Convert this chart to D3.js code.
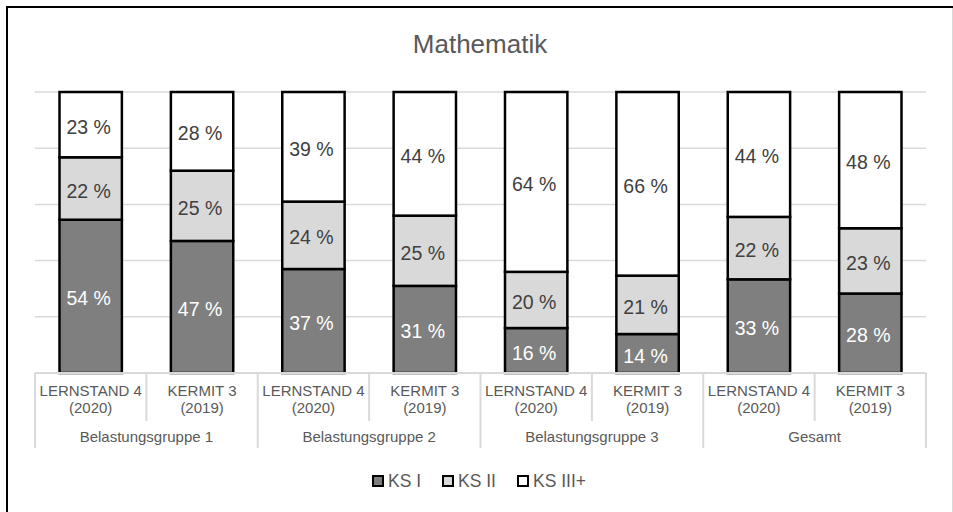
<!DOCTYPE html>
<html><head><meta charset="utf-8">
<script src="https://cdn.jsdelivr.net/npm/d3@7"></script>
<style>
html,body{margin:0;padding:0;background:#fff;}
svg{display:block;font-family:"Liberation Sans",Arial,sans-serif;}
</style></head>
<body><svg id="c" width="953" height="512"></svg>
<script>
const title = "Mathematik";
const categories = ["LERNSTAND 4 (2020)|G1","KERMIT 3 (2019)|G1","LERNSTAND 4 (2020)|G2","KERMIT 3 (2019)|G2","LERNSTAND 4 (2020)|G3","KERMIT 3 (2019)|G3","LERNSTAND 4 (2020)|G4","KERMIT 3 (2019)|G4"];
const subLine1 = ["LERNSTAND 4","KERMIT 3","LERNSTAND 4","KERMIT 3","LERNSTAND 4","KERMIT 3","LERNSTAND 4","KERMIT 3"];
const subLine2 = ["(2020)","(2019)","(2020)","(2019)","(2020)","(2019)","(2020)","(2019)"];
const groups = ["Belastungsgruppe 1","Belastungsgruppe 2","Belastungsgruppe 3","Gesamt"];
const seriesNames = ["KS I","KS II","KS III+"];
const ksI   = [54,47,37,31,16,14,33,28];
const ksII  = [22,25,24,25,20,21,22,23];
const ksIII = [23,28,39,44,64,66,44,48];
const yTicks = [0,0.2,0.4,0.6,0.8,1.0];

const colors = ["#7f7f7f","#d9d9d9","#ffffff"];
const labelColors = ["#ffffff","#404040","#404040"];

const svg = d3.select("#c");
// chart border
svg.append("line").attr("x1",7).attr("x2",7).attr("y1",7).attr("y2",512).attr("stroke","#000").attr("stroke-width",2);
svg.append("line").attr("x1",6).attr("x2",953).attr("y1",7).attr("y2",7).attr("stroke","#000").attr("stroke-width",2);
svg.append("line").attr("x1",952.5).attr("x2",952.5).attr("y1",8).attr("y2",512).attr("stroke","#d9d9d9").attr("stroke-width",1);

svg.append("text").attr("x",480).attr("y",53).attr("text-anchor","middle")
  .attr("font-size",26).attr("fill","#595959").text(title);

const x = d3.scaleBand().domain(categories).range([35,926]).paddingInner(0.44).paddingOuter(0.22);
const y = d3.scaleLinear().domain([0,1]).range([373,92]);

// gridlines
svg.append("g").selectAll("line").data(yTicks.slice(1)).join("line")
  .attr("x1",35).attr("x2",926).attr("y1",d=>y(d)).attr("y2",d=>y(d))
  .attr("stroke","#d9d9d9").attr("stroke-width",1.5);

const table = categories.map((c,i)=>({cat:c,"KS I":ksI[i],"KS II":ksII[i],"KS III+":ksIII[i]}));
const stack = d3.stack().keys(seriesNames).offset(d3.stackOffsetExpand);
const stacked = stack(table);

const gBars = svg.append("g");
stacked.forEach((s,si)=>{
  const g = gBars.append("g");
  g.selectAll("rect").data(s).join("rect")
    .attr("x",d=>x(d.data.cat)).attr("width",x.bandwidth())
    .attr("y",d=>y(d[1])).attr("height",d=>y(d[0])-y(d[1]))
    .attr("fill",colors[si]).attr("stroke","#000").attr("stroke-width",2.5);
});
stacked.forEach((s,si)=>{
  svg.append("g").selectAll("text").data(s).join("text")
    .attr("x",d=>x(d.data.cat)+x.bandwidth()/2-2)
    .attr("y",d=>(y(d[0])+y(d[1]))/2+9)
    .attr("text-anchor","middle").attr("font-size",19.5)
    .attr("fill",labelColors[si])
    .text(d=>d.data[s.key]+" %");
});

// category axis
const step = x.step();
const left = 35;
svg.append("line").attr("x1",left).attr("x2",926).attr("y1",373).attr("y2",373).attr("stroke","#d9d9d9").attr("stroke-width",2);
const seps = d3.range(categories.length+1);
svg.append("g").selectAll("line").data(seps).join("line")
  .attr("x1",i=>left+i*step).attr("x2",i=>left+i*step)
  .attr("y1",373).attr("y2",i=>i%2===0?448:421)
  .attr("stroke","#d9d9d9").attr("stroke-width",2);
const axL = svg.append("g").attr("font-size",15).attr("fill","#595959").attr("text-anchor","middle");
categories.forEach((c,i)=>{
  const cx = x(c)+x.bandwidth()/2;
  axL.append("text").attr("x",cx).attr("y",396).text(subLine1[i]);
  axL.append("text").attr("x",cx).attr("y",413).text(subLine2[i]);
});
groups.forEach((g,gi)=>{
  const cx = left + (gi*2+1)*step;
  axL.append("text").attr("x",cx).attr("y",442).text(g);
});

// legend
const legX = [373,443,518];
const leg = svg.append("g");
seriesNames.forEach((n,i)=>{
  leg.append("rect").attr("x",legX[i]).attr("y",476).attr("width",10).attr("height",10)
    .attr("fill",colors[i]).attr("stroke","#000").attr("stroke-width",2);
  leg.append("text").attr("x",legX[i]+15).attr("y",487).attr("font-size",17.5).attr("fill","#595959").text(n);
});
</script></body></html>
